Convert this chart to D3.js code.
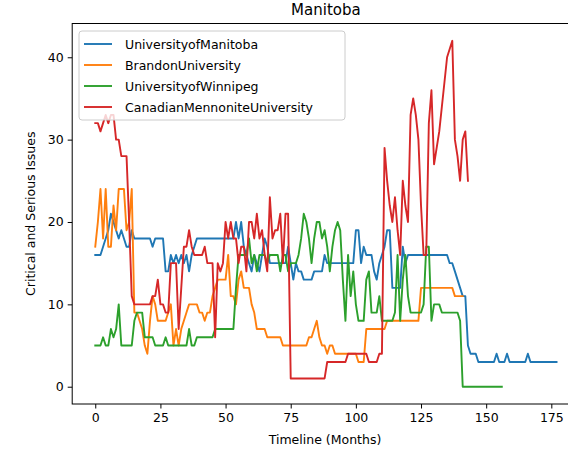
<!doctype html>
<html lang="en">
<head>
<meta charset="utf-8">
<script src="https://d3js.org/d3.v7.min.js"></script>
<style>
  body { margin: 0; background: #fff; }
  svg text { font-family: "DejaVu Sans", sans-serif; fill: #000; }
</style>
</head>
<body>
<svg id="chart" width="568" height="458"></svg>
<script>
// series names, in drawing order
var names = ["UniversityofManitoba", "BrandonUniversity", "UniversityofWinnipeg", "CanadianMennoniteUniversity"];
var colors = ["#1f77b4", "#ff7f0e", "#2ca02c", "#d62728"];

// one value per month, index = month
var manitoba = [16,16,16,17,18,19,21,20,19,18,19,18,17,17,19,18,18,18,18,18,
  18,18,17,18,18,18,18,14,14,16,15,16,15,16,15,16,14,16,17,18,
  18,18,18,18,18,18,18,18,18,18,18,18,18,18,20,18,20,17,16,15,
  14,16,15,14,16,18,17,15,15,15,15,15,15,15,17,15,13,15,14,14,
  13,13,13,13,14,14,14,14,16,15,15,15,15,15,15,15,15,15,15,15,
  19,19,15,17,16,16,16,14,13,15,16,17,19,19,12,12,12,12,17,15,
  16,16,16,16,16,16,16,16,16,16,16,16,16,16,16,16,15,15,14,13,
  12,11,11,5,4,4,4,3,3,3,3,3,3,3,4,3,3,3,4,3,
  3,3,3,3,3,3,4,3,3,3,3,3,3,3,3,3,3,3];
var brandon = [17,20,24,18,24,17,17,22,19,24,24,24,19,20,24,9,9,8,7,5,
  4,8,11,10,8,8,8,8,9,10,5,7,5,7,8,9,10,10,10,10,
  9,9,8,9,9,11,12,13,13,13,13,16,11,11,10,13,14,12,12,12,
  10,9,7,7,7,7,6,6,6,6,6,6,5,5,5,5,5,5,5,5,
  5,5,6,6,7,8,6,5,5,4,5,5,4,4,4,4,4,4,4,4,
  4,3,3,3,7,7,7,7,7,7,7,7,8,8,8,8,8,8,8,8,
  8,8,8,8,8,12,12,12,12,12,12,12,12,12,12,12,12,12,11,11,
  11,11];
var winnipeg = [5,5,5,6,5,5,7,6,7,10,5,5,5,5,5,8,9,9,9,6,
  6,6,6,5,5,5,5,6,5,5,5,5,5,5,5,5,7,5,5,6,
  6,6,6,6,6,6,7,7,7,7,7,7,7,7,12,16,16,16,16,18,
  15,16,14,16,16,16,15,16,16,16,16,14,16,16,14,15,15,15,16,18,
  21,20,18,15,18,20,20,18,19,17,14,17,19,20,19,13,8,16,11,14,
  10,8,8,8,13,14,9,9,9,11,8,8,8,8,8,9,16,8,13,16,
  11,9,9,9,9,9,10,17,17,8,10,10,10,9,9,9,9,9,9,9,
  8,0,0,0,0,0,0,0,0,0,0,0,0,0,0,0,0];
var mennonite = [32,32,31,32,33,32,33,33,30,30,28,28,28,20,11,10,10,10,10,10,
  10,10,11,11,13,10,10,9,9,15,15,15,7,12,17,17,19,17,16,16,
  16,16,17,15,15,15,6,15,14,15,20,18,20,18,18,15,17,17,14,20,
  20,18,21,18,19,16,14,23,18,19,19,21,15,21,21,1,1,1,1,1,
  1,1,1,1,1,1,1,1,1,3,3,3,3,3,3,3,3,4,4,4,
  4,4,4,4,4,3,3,3,3,4,4,29,25,22,20,23,19,16,25,22,
  20,33,35,33,30,22,16,16,32,36,27,29,31,34,37,40,41,42,30,28,
  25,30,31,25];
var series = [manitoba, brandon, winnipeg, mennonite];

var xTicks = [0, 25, 50, 75, 100, 125, 150, 175];
var yTicks = [0, 10, 20, 30, 40];

var svg = d3.select("#chart");
var plotLeft = 72.2, plotRight = 579.6, plotTop = 23.5, plotBottom = 404;

var x = d3.scaleLinear().domain([-8.85, 185.85]).range([plotLeft, plotRight]);
var y = d3.scaleLinear().domain([-2.1, 44.1]).range([plotBottom, plotTop]);

var line = d3.line()
  .x(function(d, i) { return x(i); })
  .y(function(d) { return y(d); });

// lines
series.forEach(function(s, k) {
  svg.append("path")
    .datum(s)
    .attr("d", line)
    .attr("fill", "none")
    .attr("stroke", colors[k])
    .attr("stroke-width", 1.9)
    .attr("stroke-linejoin", "round")
    .attr("stroke-linecap", "square");
});

// axes
var xAxis = svg.append("g")
  .attr("transform", "translate(0," + plotBottom + ")")
  .call(d3.axisBottom(x).tickValues(xTicks).tickSize(4.5).tickSizeOuter(0).tickPadding(5));
var yAxis = svg.append("g")
  .attr("transform", "translate(" + plotLeft + ",0)")
  .call(d3.axisLeft(y).tickValues(yTicks).tickSize(4.5).tickSizeOuter(0).tickPadding(4));
[xAxis, yAxis].forEach(function(a) {
  a.selectAll("text").attr("font-size", 12.5).style("font-family", "DejaVu Sans, sans-serif");
  a.select(".domain").remove();
  a.selectAll(".tick line").attr("stroke", "#000").attr("stroke-width", 1);
});

// spines
svg.append("rect")
  .attr("x", plotLeft).attr("y", plotTop)
  .attr("width", plotRight - plotLeft).attr("height", plotBottom - plotTop)
  .attr("fill", "none").attr("stroke", "#000").attr("stroke-width", 1);

// title and axis labels
svg.append("text").attr("x", (plotLeft + plotRight) / 2).attr("y", 15)
  .attr("text-anchor", "middle").attr("font-size", 15).text("Manitoba");
svg.append("text").attr("x", 325).attr("y", 444)
  .attr("text-anchor", "middle").attr("font-size", 12.5).text("Timeline (Months)");
svg.append("text")
  .attr("transform", "translate(35," + ((plotTop + plotBottom) / 2) + ") rotate(-90)")
  .attr("text-anchor", "middle").attr("font-size", 12.5).text("Critical and Serious Issues");

// legend
var lg = svg.append("g").attr("transform", "translate(79,31)");
lg.append("rect")
  .attr("width", 266).attr("height", 89).attr("rx", 3)
  .attr("fill", "#fff").attr("fill-opacity", 0.8)
  .attr("stroke", "#ccc").attr("stroke-width", 1);
names.forEach(function(n, k) {
  var yy = 13 + k * 21;
  lg.append("line").attr("x1", 5).attr("x2", 33).attr("y1", yy).attr("y2", yy)
    .attr("stroke", colors[k]).attr("stroke-width", 1.9);
  lg.append("text").attr("x", 46).attr("y", yy + 4.5).attr("font-size", 12.5).text(n);
});
</script>
</body>
</html>
